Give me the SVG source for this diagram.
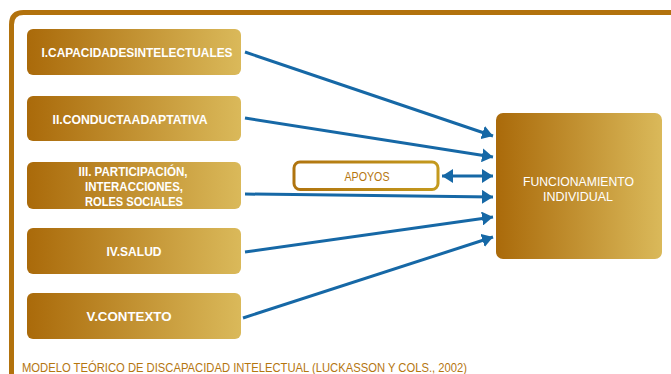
<svg xmlns="http://www.w3.org/2000/svg" width="671" height="374" viewBox="0 0 671 374">
  <defs>
    <linearGradient id="gold" x1="0" y1="0" x2="1" y2="0">
      <stop offset="0" stop-color="#aa6a0a"/>
      <stop offset="1" stop-color="#dab95a"/>
    </linearGradient>
    <linearGradient id="goldStroke" x1="0" y1="0" x2="1" y2="0">
      <stop offset="0" stop-color="#b0740f"/>
      <stop offset="1" stop-color="#c49a1e"/>
    </linearGradient>
    <marker id="arr" markerUnits="userSpaceOnUse" markerWidth="12" markerHeight="14" refX="11" refY="7" orient="auto-start-reverse" viewBox="0 0 12 14">
      <path d="M0,0 L11,7 L0,14 Z" fill="#1668a6"/>
    </marker>
    <style>
      .box { fill: url(#gold); }
      .lbl { fill: #ffffff; font-family: "Liberation Sans", "DejaVu Sans", sans-serif; font-size: 13.5px; font-weight: bold; text-anchor: middle; }
      .lblr { fill: #ffffff; font-family: "Liberation Sans", "DejaVu Sans", sans-serif; font-size: 13px; text-anchor: middle; }
      .conn { stroke: #1668a6; stroke-width: 3; fill: none; marker-end: url(#arr); }
    </style>
  </defs>

  <path d="M11.5,380 L11.5,24.5 Q11.5,12.5 23.5,12.5 L680,12.5" fill="none" stroke="#b2720d" stroke-width="5"/>

  <g id="n1">
    <rect class="box" x="27" y="29" width="214" height="46" rx="6"/>
    <text class="lbl" x="137" y="57" textLength="191" lengthAdjust="spacingAndGlyphs">I.CAPACIDADESINTELECTUALES</text>
  </g>
  <g id="n2">
    <rect class="box" x="27" y="96" width="214" height="45" rx="6"/>
    <text class="lbl" x="130" y="124" textLength="155" lengthAdjust="spacingAndGlyphs">II.CONDUCTAADAPTATIVA</text>
  </g>
  <g id="n3">
    <rect class="box" x="27" y="162" width="214" height="47" rx="6"/>
    <text class="lbl" x="133" y="176" textLength="109" lengthAdjust="spacingAndGlyphs">III. PARTICIPACIÓN,</text>
    <text class="lbl" x="134" y="191" textLength="98" lengthAdjust="spacingAndGlyphs">INTERACCIONES,</text>
    <text class="lbl" x="134" y="206" textLength="98" lengthAdjust="spacingAndGlyphs">ROLES SOCIALES</text>
  </g>
  <g id="n4">
    <rect class="box" x="27" y="228" width="214" height="46" rx="6"/>
    <text class="lbl" x="134" y="256" textLength="55" lengthAdjust="spacingAndGlyphs">IV.SALUD</text>
  </g>
  <g id="n5">
    <rect class="box" x="27" y="293" width="214" height="46" rx="6"/>
    <text class="lbl" x="129" y="321" textLength="85" lengthAdjust="spacingAndGlyphs">V.CONTEXTO</text>
  </g>
  <g id="apoyos">
    <rect x="294" y="162" width="144" height="27.5" rx="6" fill="#ffffff" stroke="url(#goldStroke)" stroke-width="3"/>
    <text x="367" y="181" font-family="'Liberation Sans', 'DejaVu Sans', sans-serif" font-size="13" fill="#b5760f" text-anchor="middle" textLength="45" lengthAdjust="spacingAndGlyphs">APOYOS</text>
  </g>
  <g id="funcionamiento">
    <rect class="box" x="496" y="113" width="166" height="146" rx="7"/>
    <text class="lblr" x="578.5" y="186" textLength="111" lengthAdjust="spacingAndGlyphs">FUNCIONAMIENTO</text>
    <text class="lblr" x="578" y="201" textLength="70" lengthAdjust="spacingAndGlyphs">INDIVIDUAL</text>
  </g>

  <g id="connectors">
    <line class="conn" x1="245" y1="52" x2="493" y2="136"/>
    <line class="conn" x1="245" y1="118" x2="493" y2="157"/>
    <line class="conn" x1="245" y1="194" x2="493" y2="197"/>
    <line class="conn" x1="245" y1="252" x2="493" y2="217"/>
    <line class="conn" x1="243" y1="318" x2="493" y2="237"/>
    <line class="conn" x1="442" y1="176" x2="493" y2="176" marker-start="url(#arr)"/>
  </g>

  <text x="22" y="372" font-family="'Liberation Sans', 'DejaVu Sans', sans-serif" font-size="13" fill="#b5760f" textLength="445" lengthAdjust="spacingAndGlyphs">MODELO TEÓRICO DE DISCAPACIDAD INTELECTUAL (LUCKASSON Y COLS., 2002)</text>
</svg>
